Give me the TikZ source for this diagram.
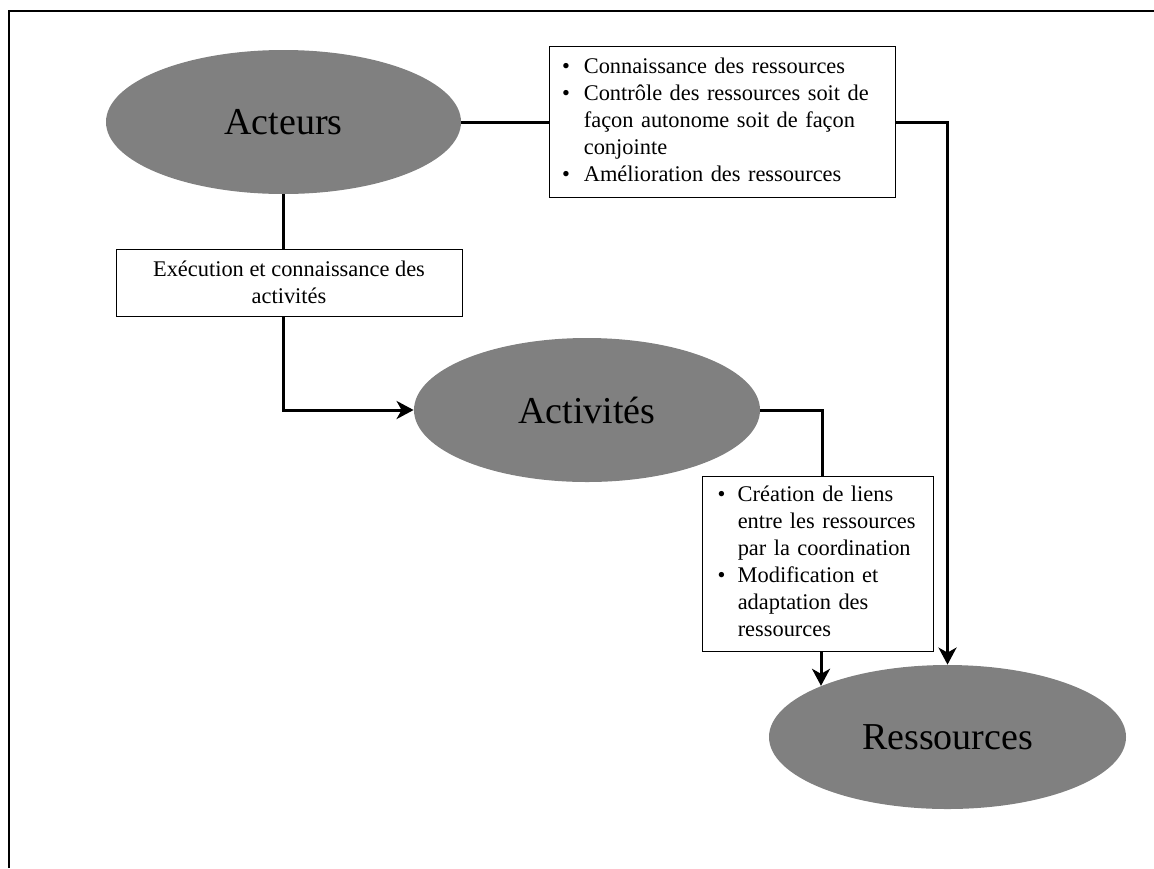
\documentclass[tikz,border=0pt]{standalone}
\usepackage{fontspec}
\setmainfont{Liberation Serif}
\usetikzlibrary{shapes.geometric}
\usetikzlibrary{arrows.meta}

\begin{document}
\begin{tikzpicture}[x=0.5pt,y=-0.5pt,
        bulle/.style={ellipse,fill=black!50,inner sep=0pt,minimum height=72pt,font=\fontsize{19}{22}\selectfont},
        cadre/.style={rectangle,draw,line width=0.5pt,fill=white,font=\fontsize{11.2}{13.5}\selectfont},
        lien/.style={line width=1.5pt},
        fleche/.style={line width=1.5pt,-{Stealth[length=8.5pt,width=9pt,inset=2.5pt]}}]
        \useasboundingbox (0,0) rectangle (1154,868);
        \draw[line width=1pt] (9,868) -- (9,11) -- (1154,11);
        \node[bulle,minimum width=177.5pt] (acteurs) at (283.5,122) {Acteurs};
        \node[bulle,minimum width=173pt] (activites) at (587,410) {Activités};
        \node[bulle,minimum width=178.5pt] (ressources) at (947.5,737) {Ressources};
        \node[cadre,minimum width=173pt,minimum height=75.5pt,text width=160pt,inner xsep=6.5pt,align=left] (savoirs) at (722,122) {\begin{tabular}{@{}l@{\hspace{7pt}}l@{}}
            \textbullet & Connaissance des ressources\\
            \textbullet & Contrôle des ressources soit de\\
             & façon autonome soit de façon\\
             & conjointe\\
            \textbullet & Amélioration des ressources
        \end{tabular}};
        \node[cadre,minimum width=173pt,minimum height=33.5pt,align=center] (execution) at (289,282.5) {Exécution et connaissance des\\activités};
        \node[cadre,minimum width=115.5pt,minimum height=87pt,text width=100pt,inner xsep=7.75pt,align=left] (coordination) at (817.5,564) {\begin{tabular}{@{}l@{\hspace{6.2pt}}l@{}}
            \textbullet & Création de liens\\
             & entre les ressources\\
             & par la coordination\\
            \textbullet & Modification et\\
             & adaptation des\\
             & ressources
        \end{tabular}};
        \draw[lien] (acteurs.east) -- (acteurs.east -| savoirs.west);
        \draw[fleche] (savoirs.east) -| (ressources.north);
        \draw[lien] (acteurs.south) -- (acteurs.south |- execution.north);
        \draw[fleche] (acteurs.south |- execution.south) |- (activites.west);
        \draw[lien] (activites.east) -| ([xshift=2.25pt]coordination.north);
        \draw[fleche] (coordination.south -| ressources.north west) -- (ressources.north west);
    \end{tikzpicture}
\end{document}
